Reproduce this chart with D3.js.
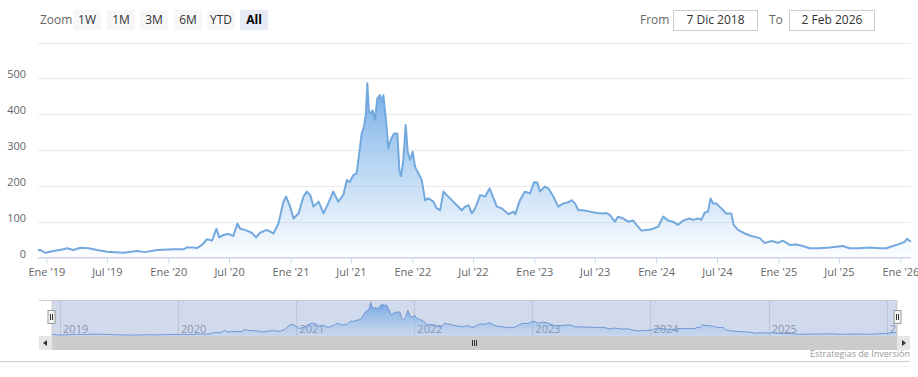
<!DOCTYPE html>
<html>
<head>
<meta charset="utf-8">
<script src="https://cdn.jsdelivr.net/npm/d3@7"></script>
<style>
  body { margin: 0; background: #fff; }
  svg { display: block; font-family: "Open Sans", "DejaVu Sans", sans-serif; }
</style>
</head>
<body>
<div id="chart"></div>
<script>
// price series
let dates = ["2018-12-07","2018-12-14","2018-12-29","2019-01-22","2019-02-21","2019-03-04","2019-03-23","2019-04-13","2019-05-08","2019-06-02","2019-07-02","2019-08-20","2019-09-29","2019-10-24","2019-11-28",
  "2020-01-17","2020-02-16","2020-02-26","2020-03-17","2020-03-27","2020-04-11","2020-04-26","2020-05-11","2020-05-24","2020-06-02","2020-06-14","2020-06-29","2020-07-14","2020-07-26","2020-08-03","2020-08-23","2020-09-07","2020-09-20","2020-10-02","2020-10-22","2020-11-01","2020-11-11","2020-11-26","2020-12-11","2020-12-19","2020-12-31",
  "2021-01-10","2021-01-25","2021-02-09","2021-02-19","2021-03-01","2021-03-11","2021-03-26","2021-04-10","2021-04-24","2021-05-09","2021-05-24","2021-06-08","2021-06-19","2021-06-28","2021-07-08","2021-07-18","2021-07-26","2021-08-02","2021-08-09","2021-08-15","2021-08-19","2021-08-24","2021-08-30","2021-09-04","2021-09-11","2021-09-18","2021-09-26","2021-10-01","2021-10-06","2021-10-14","2021-10-21","2021-10-28","2021-11-07","2021-11-17","2021-11-23","2021-11-28","2021-12-05","2021-12-12","2021-12-18","2021-12-25",
  "2022-01-02","2022-01-09","2022-01-19","2022-01-29","2022-02-08","2022-02-18","2022-03-05","2022-03-15","2022-03-25","2022-04-04","2022-04-14","2022-04-29","2022-05-14","2022-05-29","2022-06-08","2022-06-18","2022-06-28","2022-07-08","2022-07-23","2022-08-07","2022-08-20","2022-08-30","2022-09-11","2022-09-26","2022-10-16","2022-10-31","2022-11-05","2022-11-19","2022-12-04","2022-12-19","2022-12-31",
  "2023-01-10","2023-01-18","2023-02-02","2023-02-12","2023-02-27","2023-03-14","2023-03-29","2023-04-13","2023-04-23","2023-05-03","2023-05-13","2023-05-28","2023-06-17","2023-07-07","2023-07-26","2023-08-05","2023-08-15","2023-08-30","2023-09-09","2023-09-24","2023-10-09","2023-10-24","2023-11-03","2023-11-18","2023-12-03","2023-12-18",
  "2024-01-07","2024-01-22","2024-02-06","2024-02-20","2024-03-06","2024-03-17","2024-03-27","2024-04-10","2024-04-20","2024-05-05","2024-05-15","2024-05-25","2024-06-04","2024-06-12","2024-06-19","2024-06-29","2024-07-14","2024-07-29","2024-08-13","2024-08-20","2024-09-02","2024-09-22","2024-10-12","2024-11-06","2024-11-21","2024-12-11","2024-12-31",
  "2025-01-14","2025-02-04","2025-02-24","2025-03-15","2025-04-04","2025-05-04","2025-06-03","2025-06-23","2025-07-13","2025-08-02","2025-09-01","2025-10-01","2025-10-31","2025-11-20","2025-12-10","2025-12-30",
  "2026-01-14","2026-01-21","2026-02-02"]
let prices = [20,21,13,18,23,26,21,27,26,21,16,13,18,15,21,
  23,23,28,28,26,35,51,47,80,56,63,66,60,95,81,75,69,56,69,77,72,67,95,156,170,142,
  109,123,170,184,174,142,156,123,151,184,156,174,216,211,230,235,291,346,365,402,486,407,402,411,384,444,453,435,453,384,305,328,346,346,244,227,272,370,295,272,
  295,253,235,216,160,165,156,137,132,184,174,160,146,132,142,146,123,137,174,170,193,170,142,137,121,128,121,160,184,179,210,
  209,184,198,193,170,142,151,154,160,151,132,132,128,124,123,124,119,100,114,109,100,103,91,75,77,79,
  86,114,103,100,91,100,105,109,105,109,105,125,128,165,151,151,137,123,123,91,77,67,60,54,40,46,41,
  47,35,36,32,26,26,28,30,32,26,26,28,26,26,32,38,
  44,52,44]

let yTicks = [0, 100, 200, 300, 400, 500, 600]
let monthNames = ["Ene","Feb","Mar","Abr","May","Jun","Jul","Ago","Sep","Oct","Nov","Dic"]
let zoomButtons = ["1W", "1M", "3M", "6M", "YTD", "All"]
let fromLabel = "7 Dic 2018"
let toLabel = "2 Feb 2026"

let parse = d3.timeParse("%Y-%m-%d")
let data = dates.map((d, i) => ({ date: parse(d), value: prices[i] }))

const W = 918, H = 377
let svg = d3.select("#chart").append("svg")
    .attr("width", W)
    .attr("height", H)

let defs = svg.append("defs")
let grad = defs.append("linearGradient")
    .attr("id", "areaGrad")
    .attr("x1", 0).attr("y1", 0).attr("x2", 0).attr("y2", 1)
grad.append("stop").attr("offset", "0%").attr("stop-color", "#6fa8e6").attr("stop-opacity", 0.95)
grad.append("stop").attr("offset", "100%").attr("stop-color", "#7cb5ec").attr("stop-opacity", 0.02)

let navGrad = defs.append("linearGradient")
    .attr("id", "navGrad")
    .attr("x1", 0).attr("y1", 0).attr("x2", 0).attr("y2", 1)
navGrad.append("stop").attr("offset", "0%").attr("stop-color", "#5d97e0").attr("stop-opacity", 0.8)
navGrad.append("stop").attr("offset", "100%").attr("stop-color", "#7cb5ec").attr("stop-opacity", 0.1)

// ---- range selector ----
let rs = svg.append("g").style("font-size", "12px")
rs.append("text").attr("x", 40).attr("y", 24).attr("fill", "#666").text("Zoom")
let btnX = [73, 107, 140, 174, 207, 240]
zoomButtons.forEach((b, i) => {
    let sel = b == "All"
    rs.append("rect")
        .attr("x", btnX[i]).attr("y", 10).attr("width", 28).attr("height", 20)
        .attr("fill", sel ? "#e6ebf5" : "#f7f7f7")
    rs.append("text")
        .attr("x", btnX[i] + 14).attr("y", 24)
        .attr("text-anchor", "middle")
        .attr("fill", sel ? "#000" : "#333")
        .style("font-weight", sel ? "bold" : "normal")
        .text(b)
})
rs.append("text").attr("x", 640).attr("y", 24).attr("fill", "#666").text("From")
rs.append("rect").attr("x", 673.5).attr("y", 10.5).attr("width", 84).attr("height", 20)
    .attr("fill", "#fff").attr("stroke", "#ccc")
rs.append("text").attr("x", 715.5).attr("y", 24).attr("text-anchor", "middle").attr("fill", "#333").text(fromLabel)
rs.append("text").attr("x", 769).attr("y", 24).attr("fill", "#666").text("To")
rs.append("rect").attr("x", 789.5).attr("y", 10.5).attr("width", 85).attr("height", 20)
    .attr("fill", "#fff").attr("stroke", "#ccc")
rs.append("text").attr("x", 832).attr("y", 24).attr("text-anchor", "middle").attr("fill", "#333").text(toLabel)

// ---- main chart ----
let x = d3.scaleTime()
    .domain([parse("2018-12-07"), parse("2026-02-02")])
    .range([38, 911])
let y = d3.scaleLinear()
    .domain([0, 600])
    .range([257.5, 42.5])

let grid = svg.append("g")
grid.selectAll("line").data(yTicks).enter().append("line")
    .attr("x1", 38).attr("x2", 911)
    .attr("y1", d => Math.round(y(d)) + 0.5).attr("y2", d => Math.round(y(d)) + 0.5)
    .attr("stroke", "#eaeaea")

let yAxis = d3.axisLeft(y).tickValues(yTicks.filter(t => t < 600)).tickSize(0).tickPadding(0)
svg.append("g")
    .attr("transform", "translate(26,-4)")
    .call(yAxis)
    .call(g => g.select(".domain").remove())
    .selectAll("text")
    .style("font-family", "Open Sans, sans-serif")
    .style("font-size", "11px")
    .attr("fill", "#666")

let area = d3.area()
    .x(d => x(d.date))
    .y0(y(0))
    .y1(d => y(d.value))
let line = d3.line()
    .x(d => x(d.date))
    .y(d => y(d.value))

svg.append("path").datum(data)
    .attr("d", area)
    .attr("fill", "url(#areaGrad)")
svg.append("path").datum(data)
    .attr("d", line)
    .attr("fill", "none")
    .attr("stroke", "#74a9de")
    .attr("stroke-width", 2)
    .attr("stroke-linejoin", "round")

let xTicks = d3.timeMonth.every(6).range(parse("2019-01-01"), parse("2026-02-01"))
let xAxis = d3.axisBottom(x)
    .tickValues(xTicks)
    .tickSize(6)
    .tickPadding(5)
    .tickFormat(d => monthNames[d.getMonth()] + " '" + d3.timeFormat("%y")(d))
svg.append("g")
    .attr("transform", "translate(0,257.5)")
    .call(xAxis)
    .call(g => g.select(".domain").attr("stroke", "#ccd6eb").attr("d", "M38,0H911"))
    .call(g => g.selectAll(".tick line").attr("stroke", "#ccd6eb"))
    .call(g => g.selectAll("text")
        .style("font-family", "Open Sans, sans-serif")
        .style("font-size", "11px")
        .attr("fill", "#666"))

// ---- navigator ----
let nx = d3.scaleTime().domain(x.domain()).range([52, 897])
let ny = d3.scaleLinear().domain([0, 490]).range([336, 302])

let nav = svg.append("g")
nav.append("rect").attr("x", 52).attr("y", 300).attr("width", 845).attr("height", 36)
    .attr("fill", "rgba(102,133,194,0.3)")
defs.append("clipPath").attr("id", "navClip")
    .append("rect").attr("x", 52).attr("y", 300).attr("width", 845).attr("height", 36)
let navIn = nav.append("g").attr("clip-path", "url(#navClip)")
let years = d3.timeYear.range(parse("2019-01-01"), parse("2026-12-31"))
navIn.selectAll(".yl").data(years).enter().append("line")
    .attr("x1", d => Math.round(nx(d)) + 0.5).attr("x2", d => Math.round(nx(d)) + 0.5)
    .attr("y1", 300).attr("y2", 336)
    .attr("stroke", "#bcc6da")
navIn.selectAll(".yt").data(years).enter().append("text")
    .attr("x", d => nx(d) + 3)
    .attr("y", 333)
    .attr("fill", "#8a94a8")
    .style("font-size", "11px")
    .text(d => d.getFullYear())
navIn.append("path").datum(data)
    .attr("d", d3.area().x(d => nx(d.date)).y0(336).y1(d => ny(d.value)))
    .attr("fill", "url(#navGrad)")
navIn.append("path").datum(data)
    .attr("d", d3.line().x(d => nx(d.date)).y(d => ny(d.value)))
    .attr("fill", "none")
    .attr("stroke", "#6f98d2")
    .attr("stroke-width", 1)
nav.append("path")
    .attr("d", "M39,300.5H897M52,300.5V336M897,300.5V336")
    .attr("stroke", "#cccccc").attr("fill", "none")

// handles
;[51.5, 897.5].forEach(hx => {
    nav.append("rect").attr("x", hx - 3.5).attr("y", 310.5).attr("width", 7).attr("height", 13)
        .attr("fill", "#f2f2f2").attr("stroke", "#999")
    nav.append("path").attr("d", `M${hx - 1},314V320M${hx + 1},314V320`)
        .attr("stroke", "#333")
})

// scrollbar
let sb = svg.append("g")
sb.append("rect").attr("x", 39).attr("y", 336).attr("width", 871).attr("height", 14).attr("fill", "#f2f2f2")
sb.append("rect").attr("x", 52).attr("y", 336).attr("width", 845).attr("height", 14).attr("fill", "#cccccc")
sb.append("rect").attr("x", 39).attr("y", 336).attr("width", 13).attr("height", 14).attr("fill", "#e6e6e6")
sb.append("rect").attr("x", 897).attr("y", 336).attr("width", 13).attr("height", 14).attr("fill", "#e6e6e6")
sb.append("path").attr("d", "M47,340L43,343L47,346Z").attr("fill", "#333")
sb.append("path").attr("d", "M902,340L906,343L902,346Z").attr("fill", "#333")
sb.append("path").attr("d", "M472.5,340V346M474.5,340V346M476.5,340V346").attr("stroke", "#333")

// footer
svg.append("line").attr("x1", 0).attr("x2", 910).attr("y1", 361.5).attr("y2", 361.5).attr("stroke", "#cfcfcf")
svg.append("line").attr("x1", 0).attr("x2", 910).attr("y1", 366.5).attr("y2", 366.5).attr("stroke", "#f0f0f0")
svg.append("text")
    .attr("x", 910).attr("y", 357)
    .attr("text-anchor", "end")
    .attr("fill", "#999")
    .style("font-size", "9px")
    .text("Estrategias de Inversión")
</script>
</body>
</html>
